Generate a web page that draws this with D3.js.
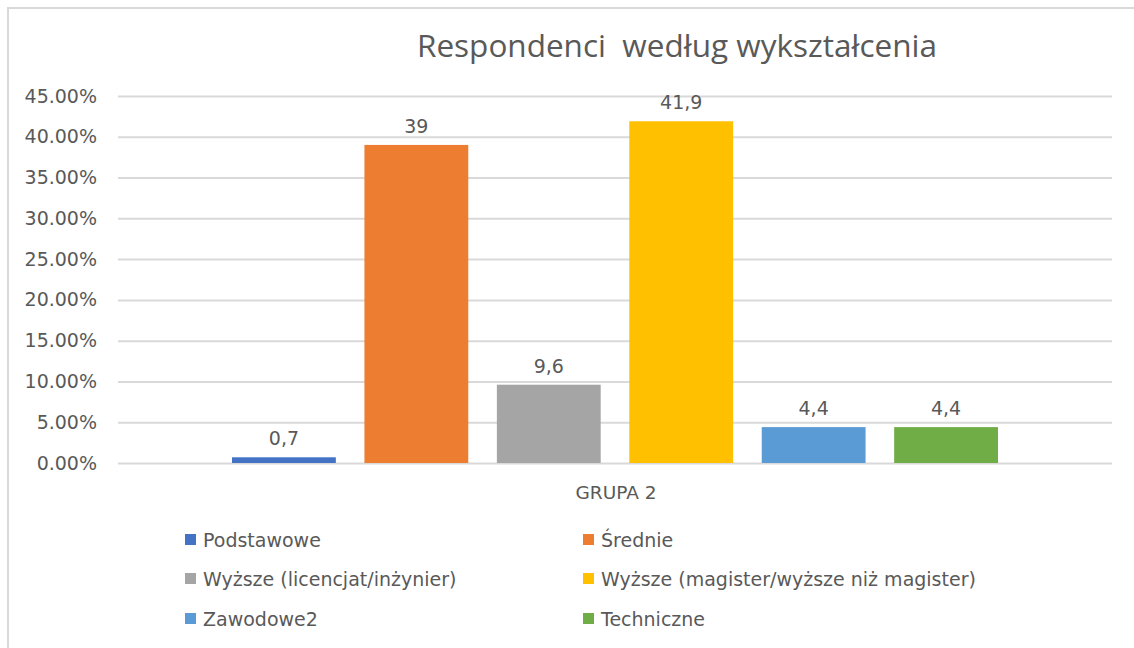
<!DOCTYPE html>
<html>
<head>
<meta charset="utf-8">
<style>
    body { margin: 0; background: #fff; }
    svg { display: block; }
    text { font-family: "DejaVu Sans", Verdana, sans-serif; fill: #595959; }
    .title { font-family: "Open Sans", sans-serif; }
</style>
<script src="https://cdnjs.cloudflare.com/ajax/libs/d3/7.8.5/d3.min.js"></script>
</head>
<body>
<svg id="chart"></svg>
<script>
// data
let groups = ["GRUPA 2"]
let seriesNames = ["Podstawowe", "Średnie", "Wyższe (licencjat/inżynier)",
    "Wyższe (magister/wyższe niż magister)", "Zawodowe2", "Techniczne"]
let seriesValues = [0.7, 39, 9.6, 41.9, 4.4, 4.4]   // percent
let seriesColors = ["#4472C4", "#ED7D31", "#A5A5A5", "#FFC000", "#5B9BD5", "#70AD47"]
let yTicks = [0, 0.05, 0.10, 0.15, 0.20, 0.25, 0.30, 0.35, 0.40, 0.45]
let title = "Respondenci  według wykształcenia"

let width = 1134, height = 648
let plot = { left: 118, right: 1112, top: 96, bottom: 463 }

let svg = d3.select("#chart").attr("width", width).attr("height", height)

// chart frame (only top/left edges fall inside the picture)
svg.append("rect")
    .attr("x", 8).attr("y", 8)
    .attr("width", 1300).attr("height", 800)
    .attr("fill", "none")
    .attr("stroke", "#d9d9d9")
    .attr("stroke-width", 2)

svg.append("text")
    .attr("class", "title")
    .attr("x", 677).attr("y", 57)
    .attr("text-anchor", "middle")
    .style("white-space", "pre")
    .style("font-size", "31.5px")
    .text(title)

let y = d3.scaleLinear().domain([0, 0.45]).range([plot.bottom, plot.top])
let x0 = d3.scaleBand().domain(groups).range([plot.left, plot.right])
let x1 = d3.scaleBand().domain(seriesNames)
    .range([114, 880])
    .paddingInner(0.216)
    .paddingOuter(0)

// y axis with gridlines
let yAxis = d3.axisLeft(y)
    .tickValues(yTicks)
    .tickFormat(d3.format(".2%"))
    .tickSize(-(plot.right - plot.left))
    .tickPadding(21)

let yg = svg.append("g")
    .attr("transform", `translate(${plot.left},0)`)
    .call(yAxis)
yg.select(".domain").remove()
yg.selectAll(".tick line").attr("stroke", "#d9d9d9").attr("stroke-width", 2)
yg.selectAll(".tick text").style("font-size", "19px").attr("fill", "#595959")

// bars
let plLocale = d3.formatLocale({ decimal: ",", thousands: " ", grouping: [3], currency: ["", " zł"] })
let fmt = plLocale.format("~g")

let series = seriesNames.map((name, i) => ({ name, value: seriesValues[i], color: seriesColors[i] }))

let g = svg.append("g").attr("transform", `translate(${x0(groups[0])},0)`)

g.selectAll("rect.bar")
    .data(series)
    .enter().append("rect")
    .attr("class", "bar")
    .attr("x", d => x1(d.name))
    .attr("width", x1.bandwidth())
    .attr("y", d => y(d.value / 100))
    .attr("height", d => y(0) - y(d.value / 100))
    .attr("fill", d => d.color)

g.selectAll("text.lbl")
    .data(series)
    .enter().append("text")
    .attr("class", "lbl")
    .attr("x", d => x1(d.name) + x1.bandwidth() / 2)
    .attr("y", d => y(d.value / 100) - 12)
    .attr("text-anchor", "middle")
    .style("font-size", "19px")
    .text(d => fmt(d.value))

// category axis label
svg.append("text")
    .attr("x", x0(groups[0]) + x0.bandwidth() / 2 + 1)
    .attr("y", 499)
    .attr("text-anchor", "middle")
    .style("font-size", "18.5px")
    .text(groups[0])

// legend, two columns
let legendCols = [185, 583]
let legendRows = [540, 579, 619]
let legend = svg.selectAll("g.leg")
    .data(series)
    .enter().append("g")
    .attr("class", "leg")
    .attr("transform", (d, i) => `translate(${legendCols[i % 2]},${legendRows[Math.floor(i / 2)]})`)

legend.append("rect")
    .attr("x", 0).attr("y", -6)
    .attr("width", 11).attr("height", 11)
    .attr("fill", d => d.color)

legend.append("text")
    .attr("x", 18).attr("y", 0)
    .attr("dy", "0.35em")
    .style("font-size", "19px")
    .text(d => d.name)
</script>
</body>
</html>
